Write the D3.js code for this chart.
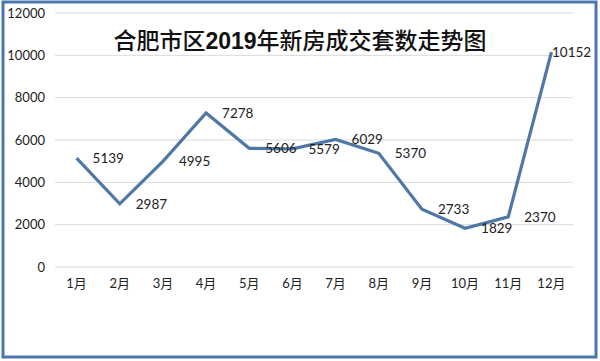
<!DOCTYPE html>
<html><head><meta charset="utf-8">
<script src="https://cdn.jsdelivr.net/npm/d3@7"></script>
<style>body{margin:0;background:#fff}svg{display:block}</style>
</head><body>
<svg id="c" width="600" height="361"></svg>
<script>
const months = ["1月","2月","3月","4月","5月","6月","7月","8月","9月","10月","11月","12月"];
const sales = [5139,2987,4995,7278,5606,5579,6029,5370,2733,1829,2370,10152];
const yTicks = [0,2000,4000,6000,8000,10000,12000];
const titleCn1 = "合肥市区", titleYear = "2019", titleCn2 = "年新房成交套数走势图";

const svg = d3.select("#c");
const W = 600, H = 361;
const m = {l:55, r:27, t:13, b:94};
const x = d3.scaleBand().domain(months).range([m.l, W - m.r]);
const y = d3.scaleLinear().domain([0,12000]).range([H - m.b, m.t]);
const fnt = "Lato, 'Noto Sans CJK SC', sans-serif";

// frame
svg.append("rect").attr("x",3).attr("y",2).attr("width",593).attr("height",355)
  .attr("fill","#fff").attr("stroke","#4a76ad").attr("stroke-width",3);

// grid
svg.append("g").selectAll("line").data(yTicks).join("line")
  .attr("x1",m.l).attr("x2",W-m.r).attr("y1",d=>y(d)).attr("y2",d=>y(d))
  .attr("stroke","#d9d9d9").attr("stroke-width",1);

// y axis
const ya = svg.append("g").attr("transform",`translate(${m.l},0)`)
  .call(d3.axisLeft(y).tickValues(yTicks).tickFormat(d3.format("d")).tickSize(0).tickPadding(10));
ya.select(".domain").remove();
ya.selectAll("text").attr("font-family",fnt).attr("font-size",13).attr("fill","#222");

// x axis
const xa = svg.append("g").attr("transform",`translate(0,${y(0)})`)
  .call(d3.axisBottom(x).tickSize(0).tickPadding(12));
xa.select(".domain").remove();
xa.selectAll("text").attr("font-family",fnt).attr("font-size",13).attr("fill","#222");

// line
const cx = d => x(d) + x.bandwidth()/2;
svg.append("path").datum(sales)
  .attr("d", d3.line().x((d,i)=>cx(months[i])).y(d=>y(d)))
  .attr("fill","none").attr("stroke","#4f78a6").attr("stroke-width",3.2)
  .attr("stroke-linejoin","miter");

// data labels
svg.append("g").selectAll("text").data(sales).join("text")
  .attr("x",(d,i)=>Math.min(cx(months[i]) + 16, 552))
  .attr("y",d=>y(d)).attr("dy","0.35em")
  .attr("font-family",fnt).attr("font-size",13.5).attr("fill","#222")
  .text(d=>d);

// title
const t = svg.append("text").attr("x",300).attr("y",49).attr("text-anchor","middle")
  .attr("font-family","'Noto Sans CJK SC', sans-serif").attr("font-size",23).attr("font-weight",500).attr("fill","#111");
t.append("tspan").text(titleCn1);
t.append("tspan").attr("font-weight","bold").attr("font-family","'Liberation Sans', sans-serif").text(titleYear);
t.append("tspan").text(titleCn2);
</script>
</body></html>
